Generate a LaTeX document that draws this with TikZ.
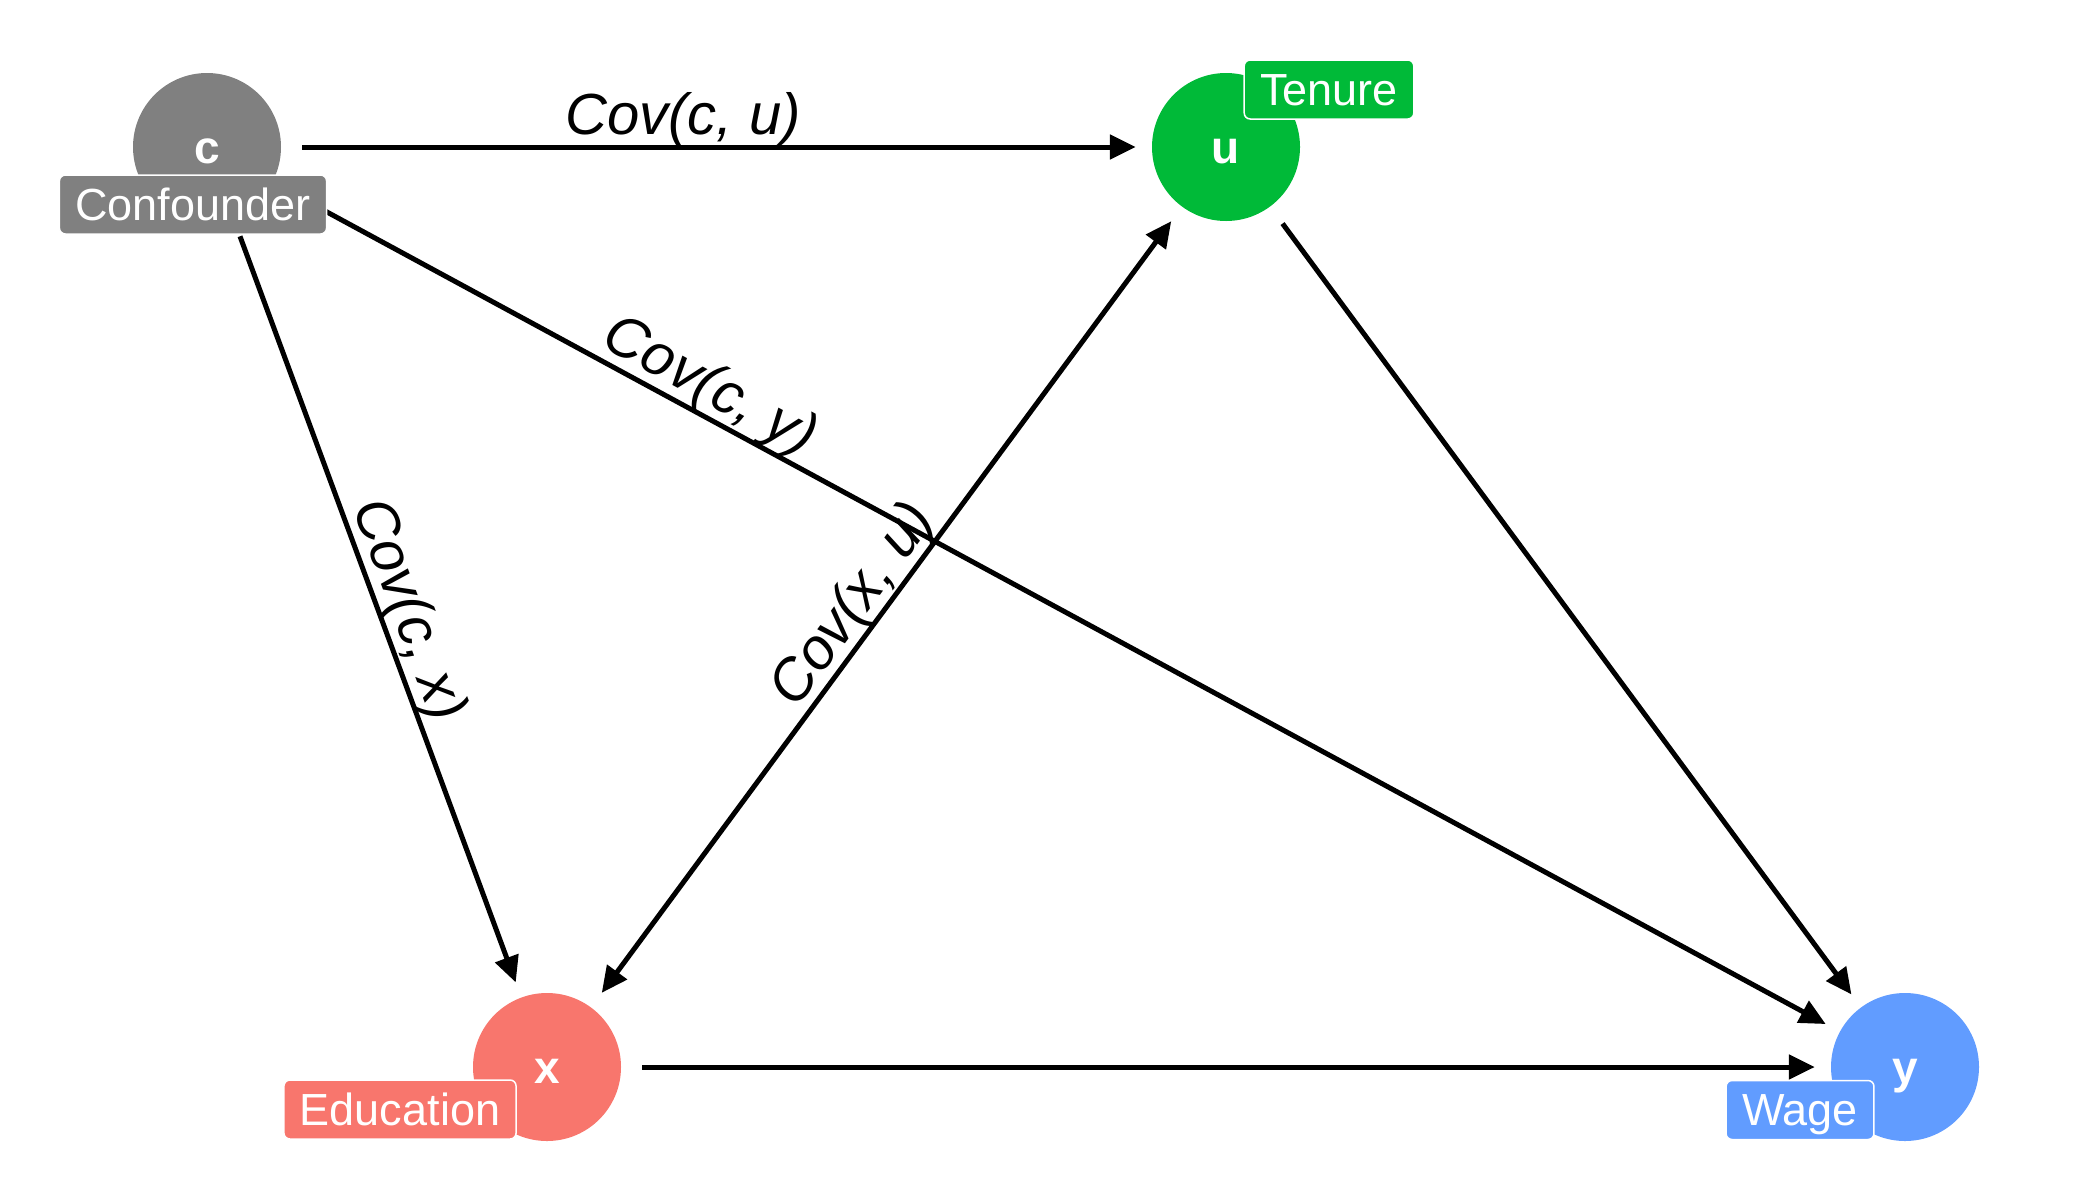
\documentclass[tikz,border=0pt]{standalone}
\usepackage{fontspec}
\setmainfont{Liberation Sans}
\usetikzlibrary{arrows.meta}
\definecolor{cgray}{HTML}{808080}
\definecolor{ugreen}{HTML}{00BA38}
\definecolor{xred}{HTML}{F8766D}
\definecolor{yblue}{HTML}{619CFF}
\begin{document}
\begin{tikzpicture}[x=1pt,y=-1pt,
  dagnode/.style={circle,minimum size=148pt,inner sep=0pt,text=white,text height=33pt,text depth=0pt,font=\fontsize{46}{50}\selectfont\bfseries},
  daglabel/.style={rounded corners=6pt,draw=white,line width=1.5pt,text=white,inner xsep=16pt,inner ysep=8pt,text height=37pt,text depth=6pt,font=\fontsize{45}{54}\selectfont},
  edge/.style={line width=5pt,-{Triangle[length=26pt,width=24pt]},shorten <=21pt,shorten >=16pt},
  biedge/.style={line width=5pt,{Triangle[length=26pt,width=24pt]}-{Triangle[length=26pt,width=24pt]},shorten <=18pt,shorten >=18pt},
  covlab/.style={anchor=base,inner sep=0pt,font=\fontsize{58}{64}\selectfont\itshape}
]
\useasboundingbox (0,0) rectangle (2100,1200);
\fill[white] (0,0) rectangle (2100,1200);
% nodes
\node[dagnode,fill=cgray] (c) at (207,147) {c};
\node[dagnode,fill=ugreen] (u) at (1226,147) {u};
\node[dagnode,fill=xred] (x) at (547,1067) {x};
\node[dagnode,fill=yblue] (y) at (1905,1067) {y};
% edges
\draw[edge] (c) -- (u);
\draw[edge] (c) -- (x);
\draw[edge] (c) -- (y);
\draw[edge] (u) -- (y);
\draw[edge] (x) -- (y);
\draw[biedge] (x) -- (u);
% edge labels
\node[covlab] (l1) at (683,134) {Cov(c, u)};
\node[covlab,rotate=-69.7] (l2) at (393,616) {Cov(c, x)};
\node[covlab,rotate=-28.4] (l3) at (702,401) {Cov(c, y)};
\node[covlab,rotate=53.6] (l4) at (866,615) {Cov(x, u)};
% node labels
\node[daglabel,fill=cgray] (lc) at (193,204.5) {Confounder};
\node[daglabel,fill=ugreen] (lu) at (1329,89.5) {Tenure};
\node[daglabel,fill=xred] (lx) at (400,1109.5) {Education};
\node[daglabel,fill=yblue] (ly) at (1800,1110) {Wage};
\end{tikzpicture}
\end{document}
